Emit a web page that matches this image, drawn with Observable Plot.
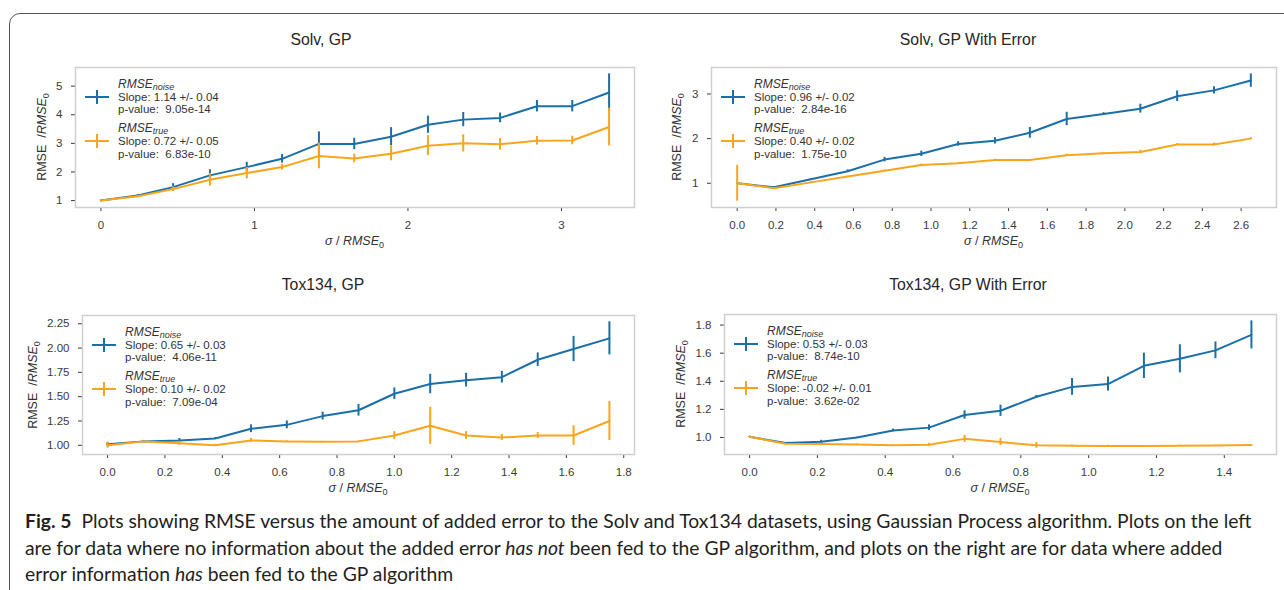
<!DOCTYPE html>
<html><head><meta charset="utf-8">
<script src="https://cdn.jsdelivr.net/npm/d3@7"></script>
<script src="https://cdn.jsdelivr.net/npm/@observablehq/plot@0.6"></script>
<style>
html,body{margin:0;padding:0;background:#fff;}
#root{position:relative;width:1284px;height:590px;overflow:hidden;background:#fff;font-family:"Liberation Sans",Arial,sans-serif;}
.abs{position:absolute;white-space:nowrap;}
.ctr{transform:translate(-50%,-50%);}
.title{font-size:15.8px;color:#262626;}
.lg{font-size:11.5px;color:#333;transform:translateY(-50%);}
.lg i{font-style:italic;}
.lg .nm{font-size:12px;}
.lg sub{font-size:9px;vertical-align:-2px;}
.ax{font-size:12.5px;color:#333;}
.ax sub{font-size:9px;vertical-align:-3px;}
#border{position:absolute;left:9px;top:13px;width:1400px;height:700px;border:1.5px solid #555;border-top-left-radius:11px;box-sizing:border-box;}
.cap{position:absolute;left:25px;font-family:Lato,"Open Sans",sans-serif;color:#231f20;white-space:nowrap;transform:translateY(-50%);}
</style></head><body><div id="root"><div id="border"></div></div>
<script>
// ---------- data ----------
const BLUE = "#1b6fa8";
const ORANGE = "#f9a51c";

// Solv, GP
const solvGpX        = [0, 0.24, 0.47, 0.71, 0.95, 1.18, 1.42, 1.65, 1.89, 2.13, 2.36, 2.60, 2.84, 3.07, 3.31];
const solvGpNoise    = [1.00, 1.18, 1.47, 1.88, 2.17, 2.46, 2.98, 2.98, 3.23, 3.65, 3.83, 3.89, 4.30, 4.30, 4.78];
const solvGpNoiseErr = [0.02, 0.03, 0.12, 0.20, 0.17, 0.15, 0.42, 0.20, 0.32, 0.30, 0.25, 0.17, 0.20, 0.20, 0.65];
const solvGpTrue     = [1.00, 1.15, 1.40, 1.73, 1.96, 2.17, 2.56, 2.47, 2.64, 2.92, 3.00, 2.97, 3.09, 3.10, 3.57];
const solvGpTrueErr  = [0.02, 0.03, 0.08, 0.22, 0.20, 0.10, 0.45, 0.15, 0.25, 0.35, 0.30, 0.20, 0.15, 0.15, 0.66];

// Solv, GP With Error
const solvGpeX        = [0, 0.19, 0.38, 0.57, 0.76, 0.95, 1.14, 1.33, 1.51, 1.70, 1.89, 2.08, 2.27, 2.46, 2.65];
const solvGpeNoise    = [1.00, 0.91, 1.09, 1.27, 1.53, 1.66, 1.88, 1.95, 2.13, 2.44, 2.55, 2.67, 2.95, 3.08, 3.30];
const solvGpeNoiseErr = [0.01, 0.01, 0.01, 0.03, 0.05, 0.06, 0.05, 0.07, 0.12, 0.15, 0.03, 0.10, 0.12, 0.08, 0.15];
const solvGpeTrue     = [1.00, 0.89, 1.02, 1.15, 1.28, 1.41, 1.45, 1.52, 1.52, 1.63, 1.67, 1.70, 1.87, 1.87, 2.00];
const solvGpeTrueErr  = [0.40, 0.01, 0.01, 0.01, 0.02, 0.02, 0.01, 0.02, 0.01, 0.02, 0.01, 0.04, 0.02, 0.03, 0.02];

// Tox134, GP
const toxGpX        = [0, 0.125, 0.25, 0.375, 0.5, 0.625, 0.75, 0.875, 1.0, 1.125, 1.25, 1.375, 1.5, 1.625, 1.75];
const toxGpNoise    = [1.01, 1.04, 1.05, 1.07, 1.17, 1.21, 1.30, 1.36, 1.53, 1.63, 1.67, 1.70, 1.88, 1.99, 2.10];
const toxGpNoiseErr = [0.02, 0.01, 0.02, 0.01, 0.04, 0.04, 0.04, 0.06, 0.06, 0.10, 0.07, 0.06, 0.07, 0.13, 0.17];
const toxGpTrue     = [1.00, 1.04, 1.02, 1.00, 1.05, 1.04, 1.035, 1.04, 1.10, 1.20, 1.10, 1.08, 1.10, 1.10, 1.25];
const toxGpTrueErr  = [0.03, 0.005, 0.02, 0.01, 0.02, 0.005, 0.005, 0.005, 0.04, 0.19, 0.04, 0.03, 0.03, 0.10, 0.20];

// Tox134, GP With Error
const toxGpeX        = [0, 0.106, 0.211, 0.317, 0.423, 0.529, 0.634, 0.740, 0.846, 0.951, 1.057, 1.163, 1.269, 1.374, 1.480];
const toxGpeNoise    = [1.005, 0.96, 0.97, 1.00, 1.05, 1.07, 1.16, 1.19, 1.29, 1.36, 1.38, 1.51, 1.56, 1.62, 1.73];
const toxGpeNoiseErr = [0.003, 0.003, 0.01, 0.003, 0.01, 0.02, 0.03, 0.04, 0.01, 0.06, 0.05, 0.09, 0.10, 0.06, 0.10];
const toxGpeTrue     = [1.005, 0.955, 0.953, 0.95, 0.945, 0.948, 0.99, 0.967, 0.944, 0.941, 0.94, 0.94, 0.941, 0.942, 0.946];
const toxGpeTrueErr  = [0.003, 0.003, 0.003, 0.003, 0.003, 0.01, 0.025, 0.025, 0.02, 0.005, 0.005, 0.003, 0.003, 0.003, 0.003];

// tick labels
const ticksSolvGpX  = [0, 1, 2, 3];
const ticksSolvGpY  = [1, 2, 3, 4, 5];
const ticksSolvGpeX = [0.0, 0.2, 0.4, 0.6, 0.8, 1.0, 1.2, 1.4, 1.6, 1.8, 2.0, 2.2, 2.4, 2.6];
const ticksSolvGpeY = [1, 2, 3];
const ticksToxGpX   = [0.0, 0.2, 0.4, 0.6, 0.8, 1.0, 1.2, 1.4, 1.6, 1.8];
const ticksToxGpY   = [1.00, 1.25, 1.50, 1.75, 2.00, 2.25];
const ticksToxGpeX  = [0.0, 0.2, 0.4, 0.6, 0.8, 1.0, 1.2, 1.4];
const ticksToxGpeY  = [1.0, 1.2, 1.4, 1.6, 1.8];

// titles and legend texts
const titles = ["Solv, GP", "Solv, GP With Error", "Tox134, GP", "Tox134, GP With Error"];
const noiseStats = [["1.14 +/- 0.04", "9.05e-14"], ["0.96 +/- 0.02", "2.84e-16"], ["0.65 +/- 0.03", "4.06e-11"], ["0.53 +/- 0.03", "8.74e-10"]];
const trueStats  = [["0.72 +/- 0.05", "6.83e-10"], ["0.40 +/- 0.02", "1.75e-10"], ["0.10 +/- 0.02", "7.09e-04"], ["-0.02 +/- 0.01", "3.62e-02"]];

const captionLines = [
  "<b>Fig. 5</b>&nbsp;&nbsp;Plots showing RMSE versus the amount of added error to the Solv and Tox134 datasets, using Gaussian Process algorithm. Plots on the left",
  "are for data where no information about the added error <i>has not</i> been fed to the GP algorithm, and plots on the right are for data where added",
  "error information <i>has</i> been fed to the GP algorithm"
];

// ---------- layout ----------
const root = document.getElementById("root");
const FONT = '"Liberation Sans", Arial, sans-serif';

const panels = [
  {x: solvGpX, ny: solvGpNoise, ne: solvGpNoiseErr, ty: solvGpTrue, te: solvGpTrueErr,
   xt: ticksSolvGpX, yt: ticksSolvGpY, xf: d => String(d), yf: d => String(d),
   left: 20, top: 50, width: 630, height: 190, fl: 75, fr: 634, ft: 67, fb: 207, titleX: 321, titleY: 40, ylabX: 43},
  {x: solvGpeX, ny: solvGpeNoise, ne: solvGpeNoiseErr, ty: solvGpeTrue, te: solvGpeTrueErr,
   xt: ticksSolvGpeX, yt: ticksSolvGpeY, xf: d => d.toFixed(1), yf: d => String(d),
   left: 655, top: 50, width: 629, height: 190, fl: 711, fr: 1276, ft: 67, fb: 207, titleX: 968, titleY: 40, ylabX: 678},
  {x: toxGpX, ny: toxGpNoise, ne: toxGpNoiseErr, ty: toxGpTrue, te: toxGpTrueErr,
   xt: ticksToxGpX, yt: ticksToxGpY, xf: d => d.toFixed(1), yf: d => d.toFixed(2),
   left: 20, top: 295, width: 630, height: 190, fl: 82, fr: 634, ft: 315, fb: 454, titleX: 323, titleY: 285, ylabX: 34},
  {x: toxGpeX, ny: toxGpeNoise, ne: toxGpeNoiseErr, ty: toxGpeTrue, te: toxGpeTrueErr,
   xt: ticksToxGpeX, yt: ticksToxGpeY, xf: d => d.toFixed(1), yf: d => d.toFixed(1),
   left: 655, top: 295, width: 629, height: 190, fl: 724, fr: 1276, ft: 314, fb: 454, titleX: 968, titleY: 285, ylabX: 682}
];

function addDiv(cls, html, x, y) {
  const d = document.createElement("div");
  d.className = "abs " + cls;
  d.innerHTML = html;
  d.style.left = x + "px";
  d.style.top = y + "px";
  root.appendChild(d);
  return d;
}

panels.forEach((p, k) => {
  const noise = p.x.map((x, i) => ({x, y: p.ny[i], e: p.ne[i]}));
  const tru = p.x.map((x, i) => ({x, y: p.ty[i], e: p.te[i]}));
  const all = noise.concat(tru);
  const xmin = d3.min(p.x), xmax = d3.max(p.x), xm = (xmax - xmin) * 0.05;
  const ymin = d3.min(all, d => d.y - d.e), ymax = d3.max(all, d => d.y + d.e), ym = (ymax - ymin) * 0.05;

  const svg = Plot.plot({
    width: p.width, height: p.height,
    marginLeft: p.fl - p.left, marginRight: p.left + p.width - p.fr,
    marginTop: p.ft - p.top, marginBottom: p.top + p.height - p.fb,
    style: {fontFamily: FONT, fontSize: "11.5px", color: "#3a3a3a", background: "transparent", overflow: "visible"},
    x: {domain: [xmin - xm, xmax + xm], ticks: p.xt, tickFormat: p.xf, tickSize: 4, tickPadding: 9, label: null},
    y: {domain: [ymin - ym, ymax + ym], ticks: p.yt, tickFormat: p.yf, tickSize: 4, tickPadding: 9, label: null},
    marks: [
      Plot.line(noise, {x: "x", y: "y", stroke: BLUE, strokeWidth: 2}),
      Plot.ruleX(noise, {x: "x", y1: d => d.y - d.e, y2: d => d.y + d.e, stroke: BLUE, strokeWidth: 2}),
      Plot.line(tru, {x: "x", y: "y", stroke: ORANGE, strokeWidth: 2}),
      Plot.ruleX(tru, {x: "x", y1: d => d.y - d.e, y2: d => d.y + d.e, stroke: ORANGE, strokeWidth: 2}),
      Plot.frame({stroke: "#cfcfcf", strokeWidth: 1.5})
    ]
  });
  svg.style.position = "absolute";
  svg.style.left = p.left + "px";
  svg.style.top = p.top + "px";
  root.appendChild(svg);

  // title
  addDiv("ctr title", titles[k], p.titleX, p.titleY);
  // axis labels
  addDiv("ctr ax", "<i>σ</i> / <i>RMSE</i><sub>0</sub>", (p.fl + p.fr) / 2, p.fb + 35);
  const yl = addDiv("ax", "RMSE&nbsp; /<i>RMSE</i><sub>0</sub>", p.ylabX, (p.ft + p.fb) / 2);
  yl.style.transform = "translate(-50%,-50%) rotate(-90deg)";

  // legend
  const tx = p.fl + 43;
  const rows = [
    [17, "<i class='nm'>RMSE</i><sub><i>noise</i></sub>"],
    [30, "Slope: " + noiseStats[k][0]],
    [42, "p-value:&nbsp; " + noiseStats[k][1]],
    [61, "<i class='nm'>RMSE</i><sub><i>true</i></sub>"],
    [74, "Slope: " + trueStats[k][0]],
    [87, "p-value:&nbsp; " + trueStats[k][1]]
  ];
  rows.forEach(([dy, h]) => addDiv("lg", h, tx, p.ft + dy));
  [[30, BLUE], [74, ORANGE]].forEach(([dy, c]) => {
    const s = document.createElementNS("http://www.w3.org/2000/svg", "svg");
    s.setAttribute("width", 26); s.setAttribute("height", 16);
    s.style.position = "absolute";
    s.style.left = (p.fl + 9) + "px";
    s.style.top = (p.ft + dy - 8) + "px";
    s.innerHTML = `<line x1="1" y1="8" x2="25" y2="8" stroke="${c}" stroke-width="2"/><line x1="13" y1="1" x2="13" y2="15" stroke="${c}" stroke-width="2"/>`;
    root.appendChild(s);
  });
});

// caption
const capY = [520, 547, 573];
const capEls = captionLines.map((h, i) => {
  const d = document.createElement("div");
  d.className = "cap";
  d.innerHTML = h;
  d.style.top = capY[i] + "px";
  d.style.fontSize = "17px";
  root.appendChild(d);
  return d;
});
const w0 = capEls[0].getBoundingClientRect().width;
const fs = 17 * 1227 / w0;
capEls.forEach(d => d.style.fontSize = fs.toFixed(2) + "px");
</script></body></html>
